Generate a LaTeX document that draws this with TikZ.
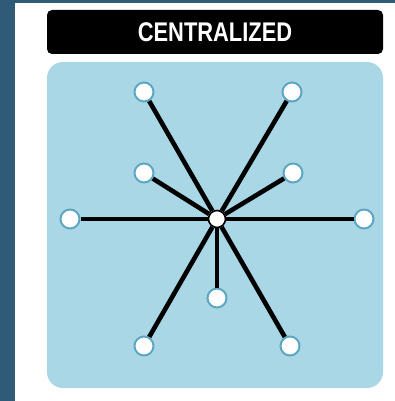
\documentclass[tikz,border=0pt]{standalone}
\usepackage{fontspec}
\setmainfont{Liberation Sans}
\definecolor{stripblue}{HTML}{2F5B78}
\definecolor{panelblue}{HTML}{A9D7E6}
\definecolor{ringblue}{HTML}{5EA7C3}
\tikzset{
	hub/.style={circle,draw=black,fill=white,line width=1.6pt,minimum size=17pt,inner sep=0pt},
	leaf/.style={circle,draw=ringblue,fill=white,line width=2pt,minimum size=19pt,inner sep=0pt},
	spoke/.style={line width=4.6pt,black}
}
\begin{document}
\begin{tikzpicture}[x=1pt,y=-1pt]
	\useasboundingbox (0,0) rectangle (395,401);
	\fill[white] (0,0) rectangle (395,401);
	\fill[stripblue] (0,0) rectangle (395,3);
	\fill[stripblue] (0,0) rectangle (15,401);
	% title bar
	\fill[black,rounded corners=5pt] (47,10) rectangle (383,54);
	\node[text=white,xscale=0.81,font=\bfseries\fontsize{27}{29}\selectfont] (title) at (215,32) {CENTRALIZED};
	% panel
	\fill[panelblue,rounded corners=16pt] (47,62) rectangle (383,388);
	\node[hub] (hub) at (217,219) {};
	\foreach \name/\px/\py in {tl/144/92,tr/292/92,ml/144/173,mr/293/173,l/70/219,r/364/219,b/217/298,bl/144/346,br/290/346}
	{
		\node[leaf] (\name) at (\px,\py) {};
		\draw[spoke] (hub) -- (\name);
	}
\end{tikzpicture}
\end{document}
